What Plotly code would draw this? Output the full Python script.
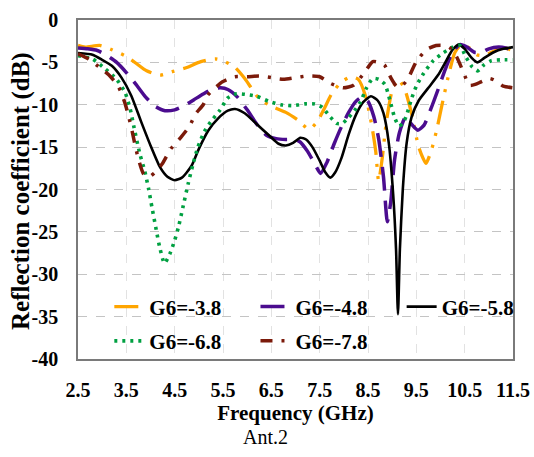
import plotly.graph_objects as go

# ---------------- data ----------------
x_ticks = [2.5, 3.5, 4.5, 5.5, 6.5, 7.5, 8.5, 9.5, 10.5, 11.5]
x_ticklabels = ["2.5", "3.5", "4.5", "5.5", "6.5", "7.5", "8.5", "9.5", "10.5", "11.5"]
y_ticks = [0, -5, -10, -15, -20, -25, -30, -35, -40]
y_ticklabels = ["0", "-5", "-10", "-15", "-20", "-25", "-30", "-35", "-40"]

freq_g38 = [2.5, 2.65, 2.95, 3.2, 3.5, 3.7, 3.92, 4.2, 4.45, 4.75, 5.0, 5.2, 5.35, 5.5,
            5.75, 5.95, 6.25, 6.55, 6.8, 7.05, 7.28, 7.45, 7.6, 7.75, 7.95, 8.15, 8.3,
            8.45, 8.58, 8.66, 8.72, 8.79, 8.88, 9.0, 9.12, 9.25, 9.4, 9.55, 9.7, 9.82,
            9.92, 10.05, 10.18, 10.3, 10.42, 10.6, 10.75, 10.9, 11.1, 11.3, 11.5]
s11_g38 = [-3.0, -3.2, -3.0, -3.5, -4.3, -5.1, -6.0, -6.5, -6.1, -5.6, -5.0, -4.7, -4.6, -4.8,
           -5.6, -6.9, -9.3, -10.3, -10.9, -11.8, -12.9, -12.0, -10.4, -8.7, -7.3, -6.7, -7.0,
           -9.0, -12.5, -15.5, -19.0, -16.5, -12.0, -8.3, -7.0, -8.0, -11.0, -15.0, -16.9, -15.2,
           -13.0, -9.5, -6.2, -3.8, -3.0, -3.3, -4.1, -4.2, -3.7, -3.3, -3.6]

freq_g48 = [2.5, 2.7, 2.9, 3.1, 3.3, 3.5, 3.7, 3.9, 4.1, 4.3, 4.5, 4.7, 4.9, 5.1, 5.3, 5.45,
            5.6, 5.8, 6.0, 6.2, 6.4, 6.6, 6.8, 7.0, 7.1, 7.25, 7.4, 7.52, 7.65, 7.8, 7.95,
            8.1, 8.25, 8.38, 8.5, 8.62, 8.72, 8.82, 8.9, 8.97, 9.05, 9.15, 9.28, 9.4, 9.53,
            9.66, 9.8, 9.95, 10.1, 10.25, 10.4, 10.55, 10.7, 10.85, 11.0, 11.2, 11.35, 11.5]
s11_g48 = [-3.3, -3.4, -3.6, -4.2, -5.0, -6.2, -7.6, -9.1, -10.2, -10.7, -10.6, -10.1, -9.4,
           -8.7, -8.1, -8.0, -8.2, -9.1, -10.6, -12.3, -13.6, -14.0, -14.1, -14.1, -14.4,
           -15.5, -17.0, -18.1, -16.8, -14.6, -12.6, -10.9, -9.6, -9.1, -9.6, -11.4, -14.0,
           -18.5, -23.8, -21.5, -16.5, -13.3, -11.4, -12.3, -13.0, -12.4, -10.5, -8.2, -5.8,
           -3.8, -2.9, -3.2, -3.8, -3.8, -3.4, -3.2, -3.3, -3.6]

freq_g58 = [2.5, 2.8, 3.0, 3.2, 3.4, 3.6, 3.8, 4.0, 4.2, 4.35, 4.5, 4.65, 4.85, 5.0, 5.2,
            5.4, 5.6, 5.75, 5.95, 6.2, 6.45, 6.65, 6.8, 6.95, 7.1, 7.22, 7.35, 7.5, 7.62,
            7.72, 7.82, 7.95, 8.1, 8.25, 8.4, 8.56, 8.7, 8.82, 8.93, 9.02, 9.08, 9.12, 9.16,
            9.22, 9.3, 9.4, 9.55, 9.75, 9.95, 10.1, 10.25, 10.38, 10.5, 10.65, 10.76, 10.9,
            11.1, 11.3, 11.5]
s11_g58 = [-3.9, -4.1, -4.7, -5.4, -6.8, -8.9, -11.9, -14.8, -17.4, -18.5, -18.9, -18.6,
           -17.2, -15.2, -13.0, -11.6, -10.7, -10.5, -11.0, -12.3, -13.6, -14.6, -14.8,
           -14.5, -13.9, -14.1, -15.0, -16.6, -18.0, -18.6, -18.0, -16.3, -13.5, -11.2,
           -9.7, -9.0, -9.5, -11.0, -14.5, -20.5, -27.0, -34.7, -27.0, -20.0, -14.5, -11.5,
           -9.5, -8.0, -6.5, -5.0, -3.5, -2.9, -3.4, -4.5, -5.0, -4.5, -3.8, -3.4, -3.2]

freq_g68 = [2.5, 2.8, 3.05, 3.3, 3.47, 3.58, 3.66, 3.78, 3.88, 3.96, 4.03, 4.12, 4.19, 4.29,
            4.4, 4.5, 4.58, 4.67, 4.78, 4.88, 4.98, 5.12, 5.26, 5.43, 5.6, 5.78, 6.0, 6.2,
            6.45, 6.7, 6.95, 7.2, 7.4, 7.55, 7.7, 7.85, 7.97, 8.1, 8.22, 8.35, 8.47, 8.6,
            8.72, 8.85, 8.95, 9.05, 9.14, 9.22, 9.3, 9.4, 9.5, 9.65, 9.85, 10.05, 10.25,
            10.4, 10.52, 10.65, 10.77, 10.9, 11.05, 11.25, 11.5]
s11_g68 = [-4.2, -4.6, -5.7, -7.0, -8.5, -10.5, -12.7, -15.8, -17.8, -19.9, -22.1, -24.8,
           -26.8, -28.7, -27.6, -26.0, -24.4, -22.1, -19.3, -17.0, -15.0, -13.1, -11.9,
           -10.7, -9.2, -8.7, -8.8, -9.0, -9.6, -10.0, -10.1, -9.9, -9.9, -10.3, -11.3,
           -12.2, -12.2, -11.5, -10.7, -9.6, -8.0, -6.9, -7.0, -7.6, -9.4, -11.5, -12.5,
           -12.2, -11.2, -9.3, -7.8, -6.3, -4.8, -3.9, -3.2, -3.0, -4.3, -5.5, -6.0, -5.3,
           -4.8, -4.7, -4.7]

freq_g78 = [2.5, 2.72, 2.99, 3.16, 3.34, 3.46, 3.54, 3.62, 3.69, 3.76, 3.86, 3.97, 4.09,
            4.24, 4.42, 4.62, 4.81, 4.93, 5.09, 5.18, 5.3, 5.49, 5.74, 6.0, 6.25, 6.5, 6.75,
            7.0, 7.25, 7.5, 7.73, 7.99, 8.2, 8.4, 8.6, 8.72, 8.84, 8.98, 9.1, 9.2, 9.33, 9.5,
            9.71, 9.91, 10.1, 10.2, 10.33, 10.47, 10.6, 10.72, 10.84, 11.02, 11.15, 11.3, 11.5]
s11_g78 = [-4.0, -4.6, -5.8, -6.6, -7.9, -9.6, -11.2, -13.1, -15.0, -16.6, -18.2, -18.5,
           -18.0, -17.0, -15.2, -13.9, -12.5, -11.1, -10.0, -8.9, -8.2, -7.3, -6.7, -6.7,
           -6.6, -6.8, -7.0, -6.8, -6.6, -6.7, -7.5, -8.0, -7.7, -6.4, -4.9, -5.0, -5.3,
           -6.9, -7.9, -7.8, -6.9, -4.9, -3.5, -3.0, -3.0, -3.3, -4.3, -6.1, -7.7, -7.6,
           -7.3, -6.9, -7.2, -7.8, -8.0]

series_names = ["G6=-3.8", "G6=-4.8", "G6=-5.8", "G6=-6.8", "G6=-7.8"]

# ---------------- styling ----------------
styles = [
    dict(color="#FFA500", dash="24px,9px,3px,9px,3px,9px", width=3.3),
    dict(color="#4B0C8F", dash="24px,10px", width=3.5),
    dict(color="#000000", dash="solid", width=2.6),
    dict(color="#00A041", dash="3px,5px", width=3.6),
    dict(color="#7B1A0A", dash="12px,9px,3px,9px", width=3.5),
]
# legend slot (paper coords of each entry's top-left): 3 columns x 2 rows
legend_pos = [(0.072, 0.214), (0.408, 0.214), (0.744, 0.214),
              (0.072, 0.113), (0.408, 0.113)]
legend_ids = ["legend", "legend2", "legend3", "legend4", "legend5"]

data = [(freq_g38, s11_g38), (freq_g48, s11_g48), (freq_g58, s11_g58),
        (freq_g68, s11_g68), (freq_g78, s11_g78)]

fig = go.Figure()
for name, (fx, fy), st, lid in zip(series_names, data, styles, legend_ids):
    fig.add_trace(go.Scatter(
        x=fx, y=fy, name=name, mode="lines",
        line=dict(color=st["color"], dash=st["dash"], width=st["width"],
                  shape="spline", smoothing=0.6),
        legend=lid,
    ))

SERIF = "Liberation Serif"
legend_layout = {}
for lid, (lx, ly) in zip(legend_ids, legend_pos):
    legend_layout[lid] = dict(
        x=lx, y=ly, xanchor="left", yanchor="top", orientation="h", itemwidth=30,
        bgcolor="rgba(0,0,0,0)", borderwidth=0,
        font=dict(family=SERIF, size=21, color="black", weight="bold"),
    )

fig.update_layout(
    template="none",
    width=534, height=457,
    margin=dict(l=78, r=21, t=20, b=98),
    paper_bgcolor="white", plot_bgcolor="white",
    showlegend=True,
    **legend_layout,
    xaxis=dict(
        range=[2.5, 11.5], tickvals=x_ticks, ticktext=x_ticklabels,
        showgrid=True, gridcolor="#E2E2E2", griddash="dash", gridwidth=1,
        zeroline=False, showline=True, linecolor="#7A7A7A", linewidth=1.5, mirror=True,
        ticks="", ticklabelstandoff=12, automargin=False,
        tickfont=dict(family=SERIF, size=20, color="black", weight="bold"),
        title=dict(text="Frequency (GHz)", standoff=6,
                   font=dict(family=SERIF, size=21, color="black", weight="bold")),
    ),
    yaxis=dict(
        range=[-40, 0], tickvals=y_ticks, ticktext=y_ticklabels,
        showgrid=True, gridcolor="#C4C4C4", griddash="dash", gridwidth=1,
        zeroline=False, showline=True, linecolor="#7A7A7A", linewidth=1.5, mirror=True,
        ticks="", ticklabelstandoff=14, automargin=False,
        tickfont=dict(family=SERIF, size=20, color="black", weight="bold"),
    ),
    annotations=[
        dict(text="Reflection coefficient (dB)", xref="paper", yref="paper",
             x=-0.131, y=0.4956, xanchor="center", yanchor="middle", textangle=-90,
             showarrow=False,
             font=dict(family=SERIF, size=25, color="black", weight="bold")),
        dict(text="Ant.2", xref="paper", yref="paper", x=0.43, y=-0.23,
             xanchor="center", yanchor="middle", showarrow=False,
             font=dict(family=SERIF, size=20, color="black")),
    ],
)

fig.write_html("out.html")
